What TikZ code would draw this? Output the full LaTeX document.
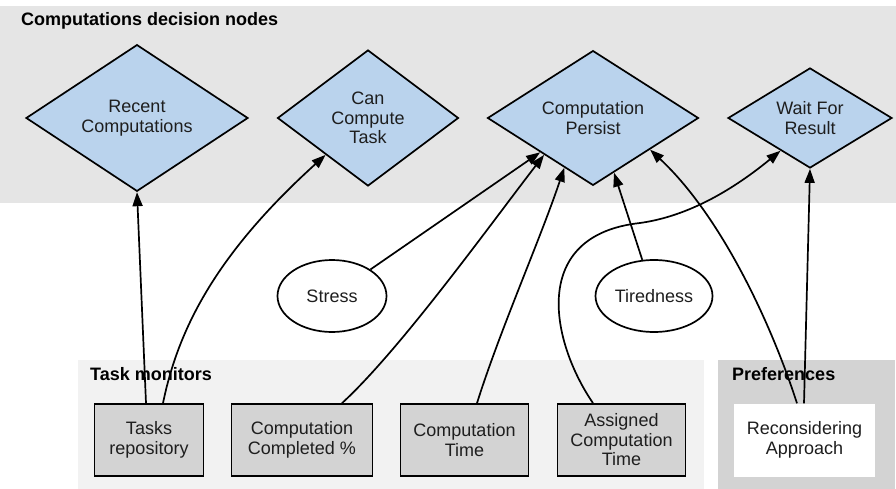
\documentclass[tikz,border=0pt]{standalone}
\usepackage{fontspec}
\setmainfont{Liberation Sans}
\usetikzlibrary{shapes.geometric,arrows.meta}
\definecolor{bandgray}{RGB}{229,229,229}
\definecolor{monigray}{RGB}{242,242,242}
\definecolor{prefgray}{RGB}{211,211,211}
\definecolor{boxgray}{RGB}{211,211,211}
\definecolor{diablue}{RGB}{186,211,237}
\definecolor{txt}{RGB}{30,30,30}
\begin{document}
\begin{tikzpicture}[x=1pt,y=-1pt,
  every node/.style={font=\fontsize{18}{19.5}\selectfont, text=txt},
  panel/.style={rectangle, anchor=north west, inner sep=0pt, outer sep=0pt},
  decision/.style={diamond, draw=black, line width=1.7pt, fill=diablue, align=center, inner sep=0pt},
  factor/.style={ellipse, draw=black, line width=1.7pt, fill=white, inner sep=0pt, minimum height=72pt},
  monitor/.style={rectangle, draw=black, line width=1.7pt, fill=boxgray, align=center, minimum height=72pt, inner sep=0pt},
  prefbox/.style={rectangle, fill=white, align=center, minimum height=73pt, minimum width=141pt, inner sep=0pt},
  grouptitle/.style={font=\bfseries\fontsize{18}{19.5}\selectfont, anchor=base west, inner sep=0pt, text=black},
  link/.style={line width=1.7pt, -{Triangle[length=14pt,width=10pt]}}
]
\useasboundingbox (0,0) rectangle (896,489);
% group panels
\node[panel, fill=bandgray, minimum width=896pt, minimum height=197pt] (band) at (0,6) {};
\node[panel, fill=monigray, minimum width=626pt, minimum height=129pt] (monpanel) at (78,360) {};
\node[panel, fill=prefgray, minimum width=177pt, minimum height=129pt] (prefpanel) at (718,360) {};
\node[grouptitle] (bandtitle) at (21,26) {Computations decision nodes};
\node[grouptitle] (montitle) at (90,380) {Task monitors};
\node[grouptitle] (preftitle) at (732,380) {Preferences};
% decision nodes
\node[decision, minimum width=222pt, minimum height=96pt] (recent) at (137,118) {Recent\\Computations};
\node[decision, minimum width=181pt, minimum height=136pt] (can) at (368,118) {Can\\Compute\\Task};
\node[decision, minimum width=211pt, minimum height=96pt] (persist) at (593,118) {Computation\\Persist};
\node[decision, minimum width=164pt, minimum height=96pt] (wait) at (810,118) {Wait For\\Result};
% factors
\node[factor, minimum width=109pt] (stress) at (332,296) {Stress};
\node[factor, minimum width=117pt] (tired) at (654,296) {Tiredness};
% monitors
\node[monitor, minimum width=109pt] (tasks) at (149,440) {Tasks\\repository};
\node[monitor, minimum width=141pt] (completed) at (302,440) {Computation\\Completed \%};
\node[monitor, minimum width=128pt] (comptime) at (464.5,440) {Computation\\Time};
\node[monitor, minimum width=128pt] (assigned) at (621.5,440) {Assigned\\Computation\\Time};
\node[prefbox] (recon) at (804.5,440) {Reconsidering\\Approach};
% connectors
\draw[link] ([xshift=-3pt]tasks.north) -- (recent.south);
\draw[link] ([xshift=14pt]tasks.north) .. controls (178,330) and (215,255) .. (can.221);
\draw[link] (stress) -- (persist.213);
\draw[link] ([xshift=40pt]completed.north) .. controls (400,350) and (490,225) .. (persist.217);
\draw[link] ([xshift=12.5pt]comptime.north) .. controls (500,330) and (540,240) .. (persist.240);
\draw[link] (tired) -- (persist.291);
\draw[link] ([xshift=-28.5pt]assigned.north) .. controls (550,340) and (530,235) .. (640,223) .. controls (690,216) and (735,188) .. (wait.228);
\draw[link] ([xshift=-7.5pt]recon.north) .. controls (770,320) and (720,215) .. (persist.331);
\draw[link] ([xshift=-0.5pt]recon.north) -- (wait.south);
\end{tikzpicture}
\end{document}
